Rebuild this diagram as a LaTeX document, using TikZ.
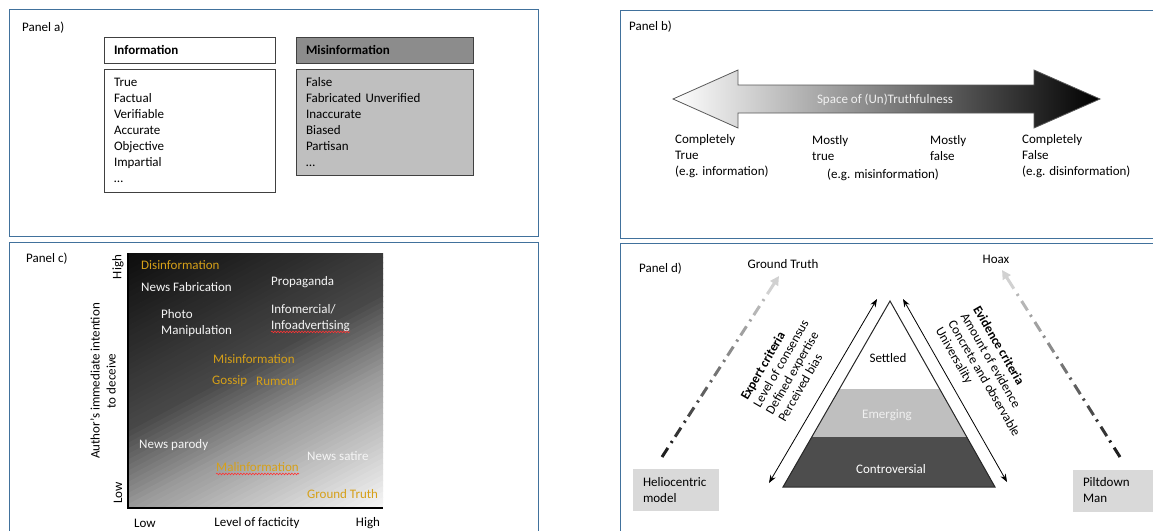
\documentclass[tikz,border=0pt]{standalone}
\usepackage{fontspec}
\setmainfont{Carlito}
\usepackage{xcolor}
\usepackage{tikz}
\usetikzlibrary{arrows.meta, calc, decorations.pathmorphing}
\definecolor{framecol}{RGB}{65,113,156}
\definecolor{boxline}{RGB}{64,64,64}
\definecolor{misdark}{RGB}{140,140,140}
\definecolor{mislight}{RGB}{191,191,191}
\definecolor{gold}{RGB}{214,160,24}
\definecolor{casegray}{RGB}{217,217,217}
\definecolor{emergefill}{RGB}{191,191,191}
\definecolor{controfill}{RGB}{77,77,77}
\tikzset{
    panel/.style={draw=framecol, line width=1pt},
    txt/.style={inner sep=0pt, anchor=west, align=left},
    hdrbox/.style={rectangle, draw=boxline, line width=1pt, minimum height=26pt, inner xsep=10pt, align=left, font=\bfseries},
    listbox/.style={rectangle, draw=boxline, line width=1pt, inner xsep=10pt, align=left},
    casebox/.style={rectangle, fill=casegray, minimum height=42pt, inner xsep=10pt, align=left},
    spellmark/.style={red!80, line width=0.6pt, decorate, decoration={snake, amplitude=0.8pt, segment length=3pt}},
    sidearrow/.style={<->, >={Stealth[length=8pt, width=6pt]}, line width=0.8pt},
    ddash/.style={line width=3pt, line cap=butt}
}

\begin{document}
\fontsize{13}{16}\selectfont
\begin{tikzpicture}[
    x=1pt, y=-1pt,
    sidetext/.style={align=left, font={\fontsize{13}{14.5}\selectfont}},
    gold text/.style={txt, text=gold},
    white text/.style={txt, text=white!96!black}
]
    \useasboundingbox (0,0) rectangle (1153,530);
    \clip (0,0) rectangle (1153,530);

    % Panel frames
    \draw[panel] (9,9) rectangle (538,236);
    \draw[panel] (620,10) rectangle (1160,238);
    \draw[panel] (9,242) rectangle (538,540);
    \draw[panel] (620,243) rectangle (1160,540);

    % Panel a
    \node[txt] (panela) at (22,28) {Panel a)};
    \node[hdrbox, text width=151pt] (infohead) at (189.5,50) {Information};
    \node[listbox, text width=151pt, minimum height=123pt] (infolist) at (189.5,130.5)
        {True\\Factual\\Verifiable\\Accurate\\Objective\\Impartial\\\ldots};
    \node[hdrbox, text width=157.5pt, fill=misdark] (mishead) at (384.75,50) {Misinformation};
    \node[listbox, text width=157.5pt, minimum height=106pt, fill=mislight] (mislist) at (384.75,122)
        {False\\Fabricated Unverified\\Inaccurate\\Biased\\Partisan\\\ldots};

    % Panel b
    \node[txt] (panelb) at (629,27) {Panel b)};
    \shade[left color=white, right color=black, draw=black!65, line width=0.8pt]
        (673,99) -- (738,70) -- (738,85) -- (1034,85) -- (1034,70) -- (1100,99)
        -- (1034,128) -- (1034,113) -- (738,113) -- (738,128) -- cycle;
    \node[text=white!94!black] (space) at (885,100) {Space of (Un)Truthfulness};
    \node[txt] (ctrue) at (675,156) {Completely\\True\\(e.g. information)};
    \node[txt] (mtrue) at (812,148) {Mostly\\true};
    \node[txt] (mfalse) at (930,148) {Mostly\\false};
    \node (egmis) at (883,175) {(e.g. misinformation)};
    \node[txt] (cfalse) at (1022,156) {Completely\\False\\(e.g. disinformation)};

    % Panel c
    \node[txt] (panelc) at (26,259) {Panel c)};
    \begin{scope}
        \clip (128,253) rectangle (383,508);
        \begin{scope}[shift={(255.5,380.5)}, rotate=28]
            \foreach \s in {0,...,69} {
                \pgfmathsetmacro\t{(\s+0.5)/70}
                \pgfmathsetmacro\blk{\t<0.45 ? 95-23*\t/0.45 : (\t<0.65 ? 72-32*(\t-0.45)/0.2 : 40-37*(\t-0.65)/0.35)}
                \fill[black!\blk] (-260,{-172.5+\s*4.93}) rectangle (260,{-172.5+\s*4.93+5.6});
            }
        \end{scope}
    \end{scope}
    \draw[line width=1.5pt] (128,253) -- (128,508) -- (383,508);
    \node[rotate=90, inner sep=0pt] (yhigh) at (118,267) {High};
    \node[rotate=90, inner sep=0pt] (ylow) at (118,493) {Low};
    \node[rotate=90, align=center] (ytitle) at (103,381) {Author’s immediate intention\\to deceive};
    \node (xlow) at (145,523) {Low};
    \node (xtitle) at (257,523) {Level of facticity};
    \node (xhigh) at (368,523) {High};

    \node[gold text] (disinfo) at (141,265) {Disinformation};
    \node[white text] (newsfab) at (141,287) {News Fabrication};
    \node[white text] (propag) at (271,282) {Propaganda};
    \node[white text] (photo) at (161,323) {Photo\\Manipulation};
    \node[white text] (infomerc) at (271,309) {Infomercial/};
    \node[white text] (infoad) at (271,326) {Infoadvertising};
    \node[gold text] (misinfo) at (213,359) {Misinformation};
    \node[gold text] (gossip) at (212,381) {Gossip};
    \node[gold text] (rumour) at (256,381) {Rumour};
    \node[white text] (parody) at (139,445) {News parody};
    \node[gold text] (malinfo) at (216,467) {Malinformation};
    \node[white text] (satire) at (307,456) {News satire};
    \node[gold text] (gtruthc) at (307,494) {Ground Truth};
    \draw[spellmark] ([yshift=-2.5pt]infoad.base west) -- ([yshift=-2.5pt]infoad.base east);
    \draw[spellmark] ([yshift=-2.5pt]malinfo.base west) -- ([yshift=-2.5pt]malinfo.base east);

    % Panel d
    \node[txt] (paneld) at (639,269) {Panel d)};
    \node (gtruth) at (783,264) {Ground Truth};
    \node (hoax) at (996,259) {Hoax};
    \node[casebox, text width=66pt, minimum width=86pt] (helio) at (676,490) {Heliocentric\\model};
    \node[casebox, text width=67pt, minimum width=87pt] (piltdown) at (1116.5,490.5) {Piltdown\\Man};

    % Pyramid
    \coordinate (apex) at (890,301);
    \coordinate (baseleft) at (783,487);
    \coordinate (baseright) at (995,487);
    \begin{scope}
        \clip (apex) -- (baseleft) -- (baseright) -- cycle;
        \fill[emergefill] (770,389) rectangle (1010,437);
        \fill[controfill] (770,437) rectangle (1010,487);
    \end{scope}
    \draw[line width=1pt, draw=black!85] (apex) -- (baseleft) -- (baseright) -- cycle;
    \node (settled) at (888,358) {Settled};
    \node[text=white!94!black] (emerging) at (887,415) {Emerging};
    \node[text=white] (contro) at (891,469) {Controversial};

    % Criteria arrows
    \coordinate (expbot) at (769,483);
    \coordinate (exptop) at (877,299);
    \coordinate (evitop) at (903,299);
    \coordinate (evibot) at (1007,482);
    \draw[sidearrow] (expbot) -- (exptop);
    \draw[sidearrow] (evitop) -- (evibot);
    \node[sidetext, rotate=60] (expert) at (787,367)
        {\textbf{Expert criteria}\\Level of consensus\\Defined expertise\\Perceived bias};
    \node[sidetext, rotate=-60] (evidence) at (990,375)
        {\textbf{Evidence criteria}\\Amount of evidence\\Concrete and observable\\Universality};

    % Fading dash-dot arrows
    \coordinate (heliobot) at (662,457);
    \coordinate (heliotop) at (779,276);
    \coordinate (piltbot) at (1120,457);
    \coordinate (pilttop) at (1002,270);
    \foreach \from/\to in {heliobot/heliotop, piltbot/pilttop} {
        \foreach \k in {0,...,7} {
            \pgfmathsetmacro\ta{\k*0.112}
            \pgfmathsetmacro\tb{\ta+0.05}
            \pgfmathsetmacro\tc{\ta+0.078}
            \pgfmathsetmacro\td{\ta+0.088}
            \pgfmathsetmacro\tint{88-8.5*\k}
            \draw[ddash, draw=black!\tint] ($(\from)!\ta!(\to)$) -- ($(\from)!\tb!(\to)$);
            \draw[ddash, draw=black!\tint] ($(\from)!\tc!(\to)$) -- ($(\from)!\td!(\to)$);
        }
        \draw[ddash, draw=black!18, -{Triangle[length=9pt, width=9pt]}] ($(\from)!0.9!(\to)$) -- (\to);
    }
\end{tikzpicture}
\end{document}
